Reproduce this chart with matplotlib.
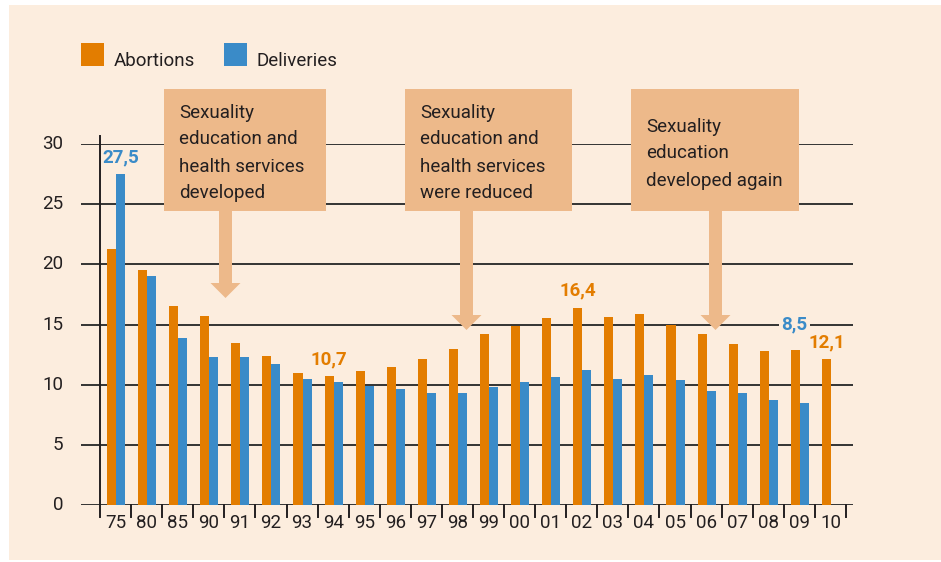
import numpy as np
import matplotlib
matplotlib.use("Agg")
import matplotlib.pyplot as plt
import matplotlib.patches as mpatches

# data (per 1000 women, 15-19 yrs)
years = ["75", "80", "85", "90", "91", "92", "93", "94", "95", "96", "97", "98",
         "99", "00", "01", "02", "03", "04", "05", "06", "07", "08", "09", "10"]
abortions = [21.3, 19.5, 16.5, 15.7, 13.5, 12.4, 11.0, 10.7, 11.1, 11.5, 12.1, 13.0,
             14.2, 14.9, 15.5, 16.4, 15.6, 15.9, 15.0, 14.2, 13.4, 12.8, 12.9, 12.1]
deliveries = [27.5, 19.0, 13.9, 12.3, 12.3, 11.7, 10.5, 10.2, 9.9, 9.6, 9.3, 9.3,
              9.8, 10.2, 10.6, 11.2, 10.5, 10.8, 10.4, 9.5, 9.3, 8.7, 8.5, np.nan]
yticks = [0, 5, 10, 15, 20, 25, 30]

# highlighted values: (label, year index, series)
highlights = [("27,5", 0, "Deliveries"), ("10,7", 7, "Abortions"),
              ("16,4", 15, "Abortions"), ("8,5", 22, "Deliveries"),
              ("12,1", 23, "Abortions")]

notes = ["Sexuality\neducation and\nhealth services\ndeveloped",
         "Sexuality\neducation and\nhealth services\nwere reduced",
         "Sexuality\neducation\ndeveloped again"]

BG = "#FCEDDE"
BOX = "#EDB98A"
ORANGE = "#E37D00"
BLUE = "#3A8BC8"
INK = "#231F20"
FS = 13.5
plt.rcParams["font.family"] = ["Roboto", "DejaVu Sans"]

W, H = 941, 562
fig = plt.figure(figsize=(W / 100, H / 100), dpi=100, facecolor="white")

# peach panel
bg = fig.add_axes([0, 0, 1, 1], zorder=0)
bg.set_xlim(0, W)
bg.set_ylim(H, 0)
bg.axis("off")
bg.add_patch(mpatches.Rectangle((9, 5), W - 9, H - 7, color=BG, lw=0))

# main chart axes: gridlines span x 81..853, categories 100..846, y 0..30 -> 505..144
cell = (846 - 100) / len(years)
ax = fig.add_axes([81 / W, (H - 505) / H, (853 - 81) / W, (505 - 144) / H], zorder=1)
ax.set_xlim(-(100 - 81) / cell, len(years) + (853 - 846) / cell)
ax.set_ylim(0, 30)
ax.set_facecolor("none")
for s in ax.spines.values():
    s.set_visible(False)
ax.set_xticks([])
ax.set_yticks([])

for v in yticks:
    ax.axhline(v, color="#333333", lw=1.4, zorder=1)
    ax.text(-(100 - 63) / cell, v, str(v), ha="right", va="center",
            fontsize=FS, color=INK)

px = 30 / (505 - 144)  # data units per pixel, vertically
ax.plot([0, 0], [-12 * px, 30 + 8 * px], color=INK, lw=1.4, clip_on=False, zorder=3)
for i in range(1, len(years) + 1):
    ax.plot([i, i], [0, -12 * px], color=INK, lw=1.4, clip_on=False, zorder=3)

x = np.arange(len(years))
bw = 0.29
ax.bar(x + 0.515 - bw / 2, abortions, bw, color=ORANGE, zorder=2)
ax.bar(x + 0.515 + bw / 2, deliveries, bw, color=BLUE, zorder=2)
for i, y in enumerate(years):
    ax.text(i + 0.5, -18 * px, y, ha="center", va="center", fontsize=FS, color=INK)

for label, i, series in highlights:
    if series == "Abortions":
        val, xc, col = abortions[i], i + 0.515 - bw / 2, ORANGE
    else:
        val, xc, col = deliveries[i], i + 0.515 + bw / 2, BLUE
    yl = val + 17 * px
    kw = {}
    if label == "8,5":
        # sits on the 15 gridline, left of its bar
        yl, xc = 15, xc - 0.32
        kw = dict(bbox=dict(facecolor=BG, edgecolor="none", pad=1.5))
    ax.text(xc, yl, label, ha="center", va="center", fontsize=FS,
            fontweight="bold", color=col, zorder=4, **kw)

# overlay for legend, note boxes and arrows (pixel coordinates)
ov = fig.add_axes([0, 0, 1, 1], zorder=2)
ov.set_xlim(0, W)
ov.set_ylim(H, 0)
ov.axis("off")

for name, col, x0 in [("Abortions", ORANGE, 81), ("Deliveries", BLUE, 224)]:
    ov.add_patch(mpatches.Rectangle((x0, 43), 23, 23, color=col, lw=0))
    ov.text(x0 + 33, 66, name, fontsize=FS, color=INK, va="baseline")

boxes = [(164, 326, 225.5, 298), (405, 572, 466.5, 330), (631, 799, 715.5, 330)]
for (bx0, bx1, ax_c, tip), note in zip(boxes, notes):
    ov.add_patch(mpatches.Rectangle((bx0, 89), bx1 - bx0, 122, color=BOX, lw=0))
    ov.add_patch(mpatches.FancyArrow(ax_c, 210, 0, tip - 210, width=13,
                                     head_width=30, head_length=15,
                                     length_includes_head=True, color=BOX, lw=0))
    lines = note.split("\n")
    first = 117.5 if len(lines) == 4 else 131.5
    for k, ln in enumerate(lines):
        ov.text(bx0 + 15, first + k * 27, ln, fontsize=FS, color=INK, va="baseline")

fig.savefig("out.png", dpi=100, facecolor="white")
